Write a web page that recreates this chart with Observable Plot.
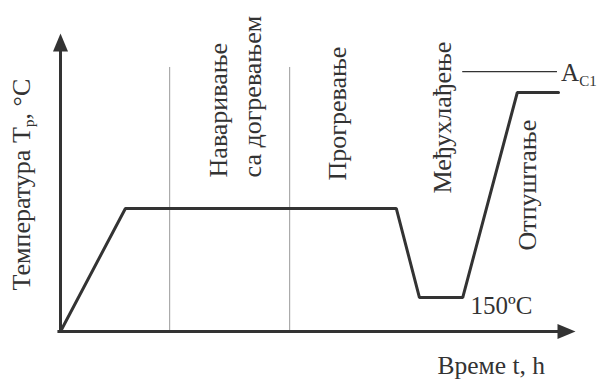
<!DOCTYPE html>
<html>
<head>
<meta charset="utf-8">
<script src="https://cdn.jsdelivr.net/npm/d3@7"></script>
<script src="https://cdn.jsdelivr.net/npm/@observablehq/plot@0.6"></script>
<style>
  html, body { margin: 0; padding: 0; background: #fff; }
  #chart svg { display: block; }
</style>
</head>
<body>
<div id="chart"></div>
<script>
// Heat-treatment profile (schematic units: time 0–100, temperature 0–100)
const profileTime = [0, 12.6, 65.2, 69.7, 78.1, 88.7, 96.7];
const profileTemp = [0, 41.3, 41.3, 11.4, 11.4, 80.2, 80.2];

// Thin vertical dividers between stages
const dividerTime = [21.2, 44.5];
const dividerTop = 88.6;

// A_C1 reference line
const ac1Time = [78.1, 96.5];
const ac1Temp = 87.2;

// Rotated stage labels (x = centre, y = start of text)
const stageLabels = ["Наваривање", "са догревањем", "Прогревање", "Међухлађење", "Отпуштање"];
const stageX = [30.7, 37.3, 53.8, 74.2, 90.7];
const stageY = [51.7, 51.7, 50.7, 46.3, 27.2];

// Other labels
const yTitle = "Температура T|p|, °C";
const xTitle = "Време t, h";
const lowLabel = "150ºC";
const ac1Label = "A|C1|";

const ink = "#333";
const font = '"Liberation Serif"';

const profile = profileTime.map((t, i) => ({t, T: profileTemp[i]}));
const stages = stageLabels.map((s, i) => ({s, t: stageX[i], T: stageY[i]}));

const arrowHead = {
  draw(ctx, size) {
    const w = 15, h = 18;
    ctx.moveTo(0, 0);
    ctx.lineTo(-w / 2, h);
    ctx.lineTo(w / 2, h);
    ctx.closePath();
  }
};

const txt = {fontFamily: font, fill: ink};

const chart = Plot.plot({
  width: 597,
  height: 381,
  marginLeft: 60,
  marginRight: 22,
  marginTop: 33,
  marginBottom: 50,
  x: {domain: [0, 100], axis: null},
  y: {domain: [0, 100], axis: null},
  style: {background: "#fff", overflow: "visible"},
  marks: [
    // dividers
    Plot.ruleX(dividerTime, {y1: 0, y2: dividerTop, stroke: "#9a9a9a", strokeWidth: 1}),
    // A_C1 line
    Plot.ruleY([ac1Temp], {x1: ac1Time[0], x2: ac1Time[1], stroke: ink, strokeWidth: 1.3}),
    // axes
    Plot.ruleX([0], {y1: -0.3, y2: 96, stroke: ink, strokeWidth: 3}),
    Plot.ruleY([0], {x1: -0.5, x2: 97, stroke: ink, strokeWidth: 3}),
    Plot.dot([{t: 0, T: 100}], {x: "t", y: "T", symbol: arrowHead, fill: ink, stroke: "none", r: 5}),
    Plot.dot([{t: 100, T: 0}], {x: "t", y: "T", symbol: arrowHead, fill: ink, stroke: "none", r: 5, rotate: 90}),
    // profile
    Plot.line(profile, {x: "t", y: "T", stroke: ink, strokeWidth: 3, strokeLinejoin: "miter"}),
    // stage labels
    Plot.text(stages, {x: "t", y: "T", text: "s", rotate: -90, textAnchor: "start", fontSize: 26, ...txt}),
    // axis titles
    Plot.text([yTitle], {x: -7.6, y: 13.8, text: d => d, rotate: -90, textAnchor: "start", fontSize: 26, ...txt}),
    Plot.text([xTitle], {x: 73.2, y: -11.4, text: d => d, textAnchor: "start", fontSize: 25.5, ...txt}),
    Plot.text([lowLabel], {x: 79.6, y: 8.7, text: d => d, textAnchor: "start", fontSize: 25, ...txt}),
    Plot.text([ac1Label], {x: 97.2, y: 86.6, text: d => d, textAnchor: "start", fontSize: 25, ...txt})
  ]
});

// Turn "a|sub|b" markers into real subscripts
d3.select(chart).selectAll("text").each(function() {
  const el = d3.select(this);
  const s = el.text();
  if (!s.includes("|")) return;
  const parts = s.split("|");
  el.text(null);
  parts.forEach((p, i) => {
    if (!p) return;
    const ts = el.append("tspan").text(p);
    if (i % 2 === 1) {
      ts.attr("font-size", "0.6em").attr("dy", "0.3em");
    } else if (i > 0) {
      ts.attr("dy", "-0.18em");
    }
  });
});

document.getElementById("chart").appendChild(chart);
</script>
</body>
</html>
